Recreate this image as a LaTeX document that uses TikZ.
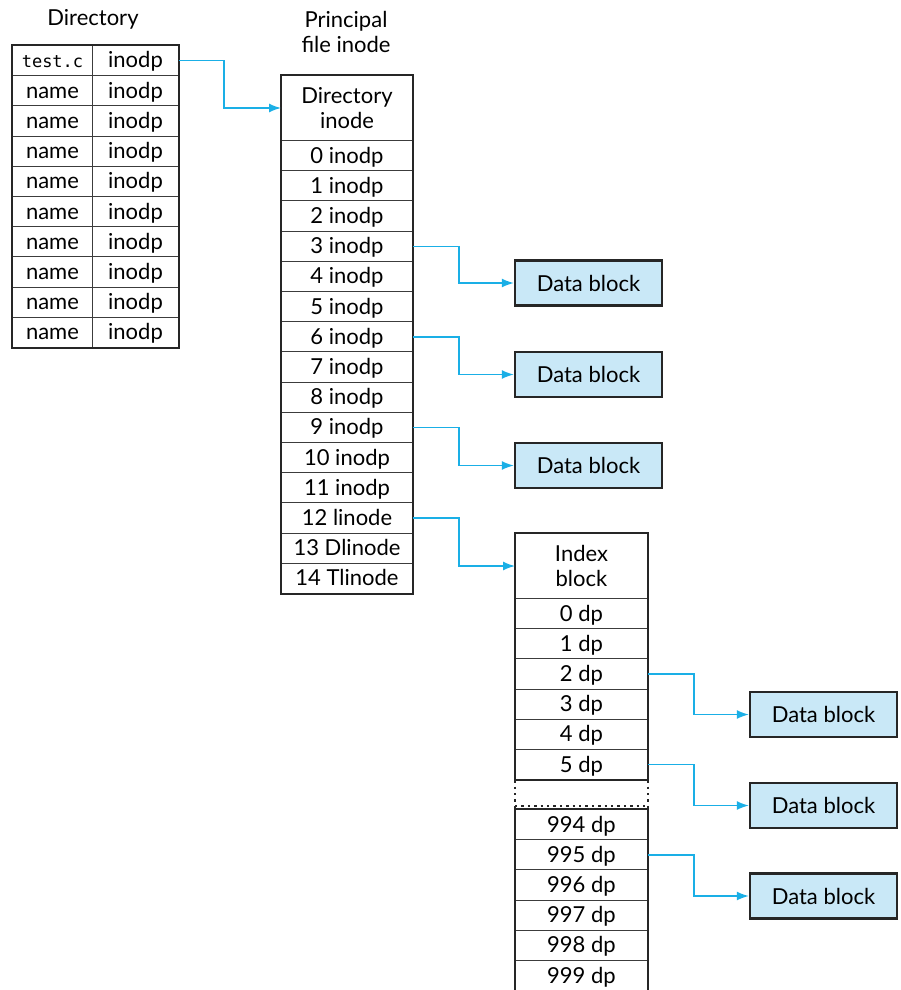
\documentclass[tikz,border=0pt]{standalone}
\usepackage{fontspec}
\setmainfont{Lato}
\setmonofont{DejaVu Sans Mono}
\usetikzlibrary{arrows.meta}
\definecolor{slink}{HTML}{1AAFE6}
\definecolor{sblock}{HTML}{C9E8F7}
\definecolor{sgrid}{HTML}{3C3C3C}
\tikzset{
  >=Latex,
  font=\fontsize{11}{12.8}\selectfont,
  box/.style={
    draw=sgrid, line width=0.5pt, minimum width=#1,
    inner sep=0pt, anchor=north west, align=center
  },
  cell/.style={box=#1, minimum height=15.1pt, text height=7.8pt, text depth=0.4pt},
  cell/.default=65.5pt,
  head/.style={box=#1, minimum height=32.5pt},
  frame/.style={draw=black!85, line width=1.2pt},
  gap/.style={draw=black!85, line width=1.2pt, dotted},
  dblock/.style={
    draw=black!85, line width=1.2pt, fill=sblock,
    minimum width=73.5pt, minimum height=22.5pt, inner sep=0pt
  },
  link/.style={->, draw=slink, line width=0.7pt, >={Latex[length=6pt,width=4.5pt]}},
  title/.style={align=center}
}
\begin{document}
\begin{tikzpicture}[x=0.5pt,y=-0.5pt]
  \useasboundingbox (0,0) rectangle (900,990);

  % directory
  \node[title] (dtitle) at (93,19) {Directory};
  \node[cell=40pt] (dn1) at (12,45) {\fontsize{8.5}{10}\selectfont\ttfamily test.c};
  \node[cell=43pt] (dp1) at (92,45) {inodp};
  \foreach \i in {2,...,10} {
    \node[cell=40pt] (dn\i) at (12,{45+30.2*(\i-1)}) {name};
    \node[cell=43pt] (dp\i) at (92,{45+30.2*(\i-1)}) {inodp};
  }
  \draw[frame] (dn1.north west) rectangle (dp10.south east);

  % principal file inode
  \node[title] (ptitle) at (346,32) {Principal\\file inode};
  \node[head=65.5pt] (phead) at (281,75) {Directory\\inode};
  \foreach \i/\t in {0/0 inodp,1/1 inodp,2/2 inodp,3/3 inodp,4/4 inodp,
      5/5 inodp,6/6 inodp,7/7 inodp,8/8 inodp,9/9 inodp,10/10 inodp,
      11/11 inodp,12/12 linode,13/13 Dlinode,14/14 Tlinode}
    \node[cell=65.5pt] (p\i) at (281,{140+30.2*\i}) {\t};
  \draw[frame] (phead.north west) rectangle (p14.south east);

  % data blocks
  \node[dblock] (b3) at (588.5,283) {Data block};
  \node[dblock] (b6) at (588.5,374.5) {Data block};
  \node[dblock] (b9) at (588.5,465.5) {Data block};

  % index block
  \node[head=66pt] (ihead) at (515,533) {Index\\block};
  \foreach \i in {0,...,5}
    \node[cell=66pt] (i\i) at (515,{598+30.2*\i}) {\i\ dp};
  \draw[frame] (ihead.north west) rectangle (i5.south east);
  \foreach \i [count=\k from 0] in {994,...,999}
    \node[cell=66pt] (j\i) at (515,{809+30.2*\k}) {\i\ dp};
  \draw[frame] (j994.north west) rectangle (j999.south east);
  \draw[gap] (i5.south west) -- (j994.north west);
  \draw[gap] (i5.south east) -- (j994.north east);
  \draw[gap] ([yshift=1.6pt]j994.north west) -- ([yshift=1.6pt]j994.north east);

  \node[dblock] (c2) at (823.5,714.5) {Data block};
  \node[dblock] (c5) at (823.5,805.5) {Data block};
  \node[dblock] (c995) at (823.5,896) {Data block};

  % pointers
  \draw[link] (dp1.east) -- ++(45,0) |- (phead.west);
  \draw[link] (p3.east) -- ++(46,0) |- (b3.west);
  \draw[link] (p6.east) -- ++(46,0) |- (b6.west);
  \draw[link] (p9.east) -- ++(46,0) |- (b9.west);
  \draw[link] (p12.east) -- ++(46,0) |- (ihead.west);
  \draw[link] (i2.east) -- ++(46,0) |- (c2.west);
  \draw[link] (i5.east) -- ++(46,0) |- (c5.west);
  \draw[link] (j995.east) -- ++(46,0) |- (c995.west);
\end{tikzpicture}
\end{document}
